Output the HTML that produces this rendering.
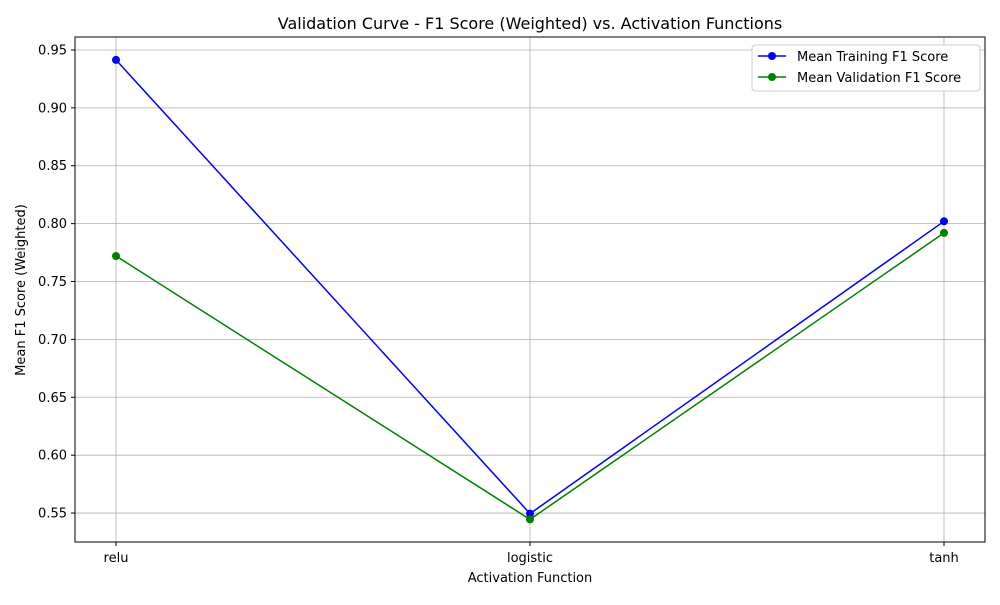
<!DOCTYPE html>
<html><head><meta charset="utf-8"><style>
body{margin:0;background:#fff;font-family:"Liberation Sans","DejaVu Sans",sans-serif}
svg text{font-family:"DejaVu Sans","Liberation Sans",sans-serif}
</style></head><body>
<svg id="chart" width="1000" height="600">
<rect x="0" y="0" width="1000" height="600" fill="#fff"/>
<text x="530" y="29" font-size="16" text-anchor="middle">Validation Curve - F1 Score (Weighted) vs. Activation Functions</text>
<g id="grid"></g><g id="axes"></g><g id="series"></g>
<text x="530" y="582" font-size="13" text-anchor="middle">Activation Function</text>
<text transform="translate(25,290) rotate(-90)" font-size="13" text-anchor="middle">Mean F1 Score (Weighted)</text>
<g>
<rect x="752" y="45" width="228" height="46" fill="#fff" stroke="#ccc" rx="3"/>
<line x1="758" y1="56" x2="786" y2="56" stroke="blue" stroke-width="1.5"/><circle cx="772" cy="56" r="4" fill="blue"/>
<text x="797" y="61" font-size="13">Mean Training F1 Score</text>
<line x1="758" y1="77" x2="786" y2="77" stroke="green" stroke-width="1.5"/><circle cx="772" cy="77" r="4" fill="green"/>
<text x="797" y="82" font-size="13">Mean Validation F1 Score</text>
</g>
</svg>
<script>
const categories=["relu","logistic","tanh"];
const trainScores=[0.9414,0.5495,0.802];
const valScores=[0.772,0.5445,0.792];
const yTicks=[0.55,0.60,0.65,0.70,0.75,0.80,0.85,0.90,0.95];
const L=75,R=985,T=37,B=542,yMin=0.525,yMax=0.9612;
const ns="http://www.w3.org/2000/svg";
function x(i){return 116+i*(944-116)/(categories.length-1);}
function y(v){return B-(v-yMin)/(yMax-yMin)*(B-T);}
function mk(tag,attrs,parent){const e=document.createElementNS(ns,tag);for(const k in attrs)e.setAttribute(k,attrs[k]);document.getElementById(parent).appendChild(e);return e;}
yTicks.forEach(t=>{
const g=mk('line',{x1:L,x2:R,y1:y(t),y2:y(t),stroke:'#b0b0b0','stroke-width':0.8},'grid');


mk('line',{x1:L-4,x2:L,y1:y(t),y2:y(t),stroke:'#000'},'axes');
const tx=mk('text',{x:L-8,y:y(t)+4.5,'font-size':13,'text-anchor':'end'},'axes');
tx.textContent=t.toFixed(2);


});
categories.forEach((c,i)=>{
const g=mk('line',{x1:x(i),x2:x(i),y1:T,y2:B,stroke:'#b0b0b0','stroke-width':0.8},'grid');


mk('line',{x1:x(i),x2:x(i),y1:B,y2:B+4,stroke:'#000'},'axes');
const tx=mk('text',{x:x(i),y:B+20,'font-size':13,'text-anchor':'middle'},'axes');
tx.textContent=c;


});
const fr=mk('rect',{x:L,y:T,width:R-L,height:B-T,fill:'none',stroke:'#000','stroke-width':1},'axes');


[[trainScores,'blue','training'],[valScores,'green','validation']].forEach(([d,col,nm])=>{
const p=mk('polyline',{points:d.map((v,i)=>x(i)+','+y(v)).join(' '),fill:'none',stroke:col,'stroke-width':1.5},'series');


d.forEach((v,i)=>{
const c=mk('circle',{cx:x(i),cy:y(v),r:4,fill:col},'series');


});
});
</script>
</body></html>
